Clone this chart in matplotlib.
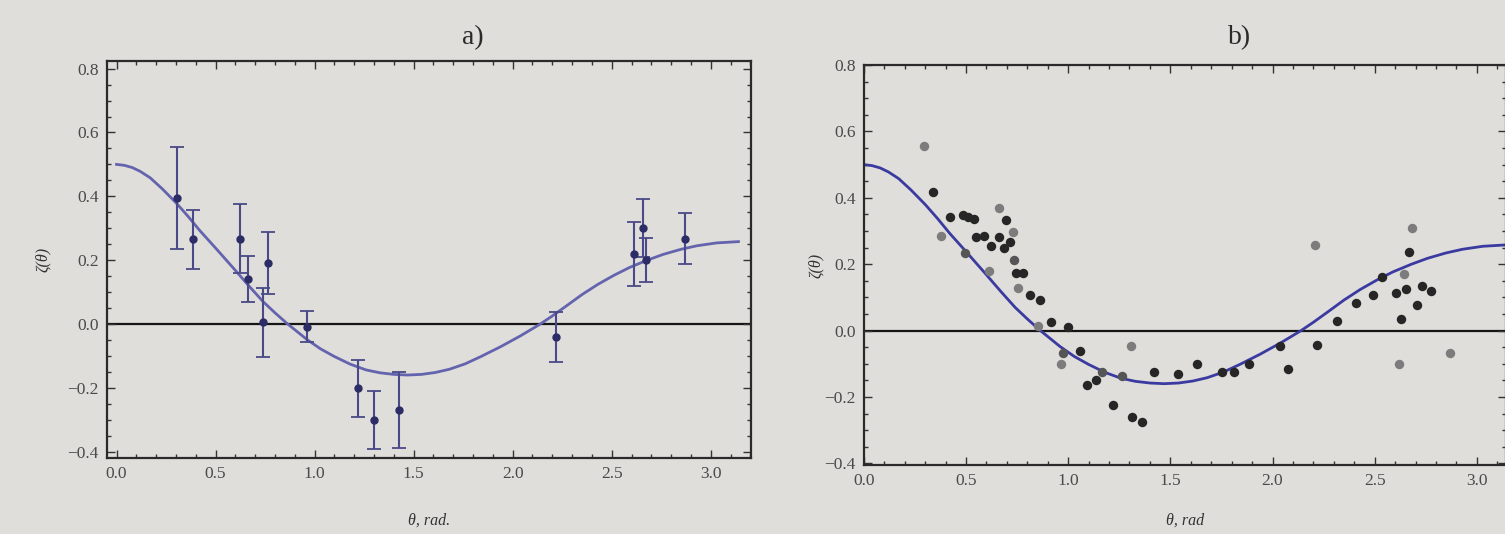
import matplotlib
matplotlib.use("Agg")
from matplotlib import pyplot as plt
from matplotlib.ticker import MultipleLocator

# ---------------------------------------------------------------------------
# data
# ---------------------------------------------------------------------------
# fitted curve zeta(theta), same in both panels
fit_theta = [0.00, 0.04, 0.08, 0.12, 0.17, 0.23, 0.30, 0.36, 0.42, 0.50, 0.59, 0.67, 0.74, 0.80,
             0.86, 0.96, 1.03, 1.10, 1.18, 1.26, 1.33, 1.40, 1.47, 1.54, 1.61, 1.68, 1.76, 1.84,
             1.94, 2.04, 2.14, 2.20, 2.27, 2.35, 2.43, 2.51, 2.59, 2.68, 2.76, 2.85, 2.93, 3.03,
             3.14]
fit_zeta = [0.500, 0.497, 0.490, 0.478, 0.458, 0.424, 0.380, 0.338, 0.293, 0.238, 0.175, 0.118,
            0.070, 0.035, 0.002, -0.048, -0.078, -0.102, -0.126, -0.144, -0.153, -0.158, -0.160,
            -0.158, -0.152, -0.142, -0.125, -0.102, -0.071, -0.037, 0.000, 0.025, 0.056, 0.092,
            0.124, 0.152, 0.177, 0.200, 0.218, 0.234, 0.245, 0.254, 0.258]

# panel a: measurements with error bars
a_theta = [0.304, 0.388, 0.624, 0.662, 0.767, 0.742, 0.964, 1.218, 1.302, 1.427,
           2.218, 2.615, 2.656, 2.673, 2.871]
a_zeta = [0.396, 0.265, 0.267, 0.141, 0.190, 0.005, -0.008, -0.202, -0.301, -0.270,
          -0.040, 0.219, 0.300, 0.200, 0.267]
a_err = [0.160, 0.093, 0.108, 0.072, 0.097, 0.108, 0.050, 0.090, 0.092, 0.118,
         0.078, 0.100, 0.090, 0.070, 0.080]

# panel b: individual points, three shades
b_dark_theta = [0.338, 0.422, 0.484, 0.509, 0.541, 0.549, 0.590, 0.622, 0.663, 0.696, 0.684,
                0.716, 0.745, 0.778, 0.813, 0.864, 0.915, 0.997, 1.057, 1.135, 1.094, 1.420,
                1.536, 1.631, 1.221, 1.310, 1.362, 1.752, 1.812, 1.887, 2.038, 2.078, 2.219,
                2.314, 2.411, 2.492, 2.538, 2.606, 2.651, 2.668, 2.631, 2.707, 2.733, 2.777]
b_dark_zeta = [0.419, 0.341, 0.349, 0.341, 0.336, 0.281, 0.284, 0.254, 0.282, 0.333, 0.248,
               0.266, 0.173, 0.173, 0.108, 0.093, 0.025, 0.012, -0.062, -0.150, -0.165, -0.125,
               -0.130, -0.100, -0.223, -0.259, -0.276, -0.125, -0.125, -0.100, -0.045, -0.115,
               -0.043, 0.028, 0.082, 0.108, 0.160, 0.112, 0.125, 0.238, 0.035, 0.078, 0.135,
               0.118]
b_mid_theta = [0.497, 0.737, 0.975, 1.167, 1.264]
b_mid_zeta = [0.234, 0.213, -0.067, -0.125, -0.138]
b_light_theta = [0.294, 0.376, 0.663, 0.729, 0.753, 0.614, 0.854, 0.964, 1.306,
                 2.208, 2.646, 2.684, 2.618, 2.870]
b_light_zeta = [0.556, 0.286, 0.369, 0.298, 0.127, 0.180, 0.015, -0.102, -0.047,
                0.258, 0.170, 0.308, -0.100, -0.068]

BG = '#dfdeda'
SERIF = ['Liberation Serif', 'DejaVu Serif']


def style_axes(ax, ylim, xlim):
    ax.set_facecolor(BG)
    ax.set_xlim(*xlim)
    ax.set_ylim(*ylim)
    ax.xaxis.set_major_locator(MultipleLocator(0.5))
    ax.xaxis.set_minor_locator(MultipleLocator(0.1))
    ax.yaxis.set_major_locator(MultipleLocator(0.2))
    ax.yaxis.set_minor_locator(MultipleLocator(0.05))
    ax.tick_params(which='both', direction='in', top=True, right=True, colors='#333333',
                   labelcolor='#4a4a4a', labelsize=12.5, width=1.0)
    ax.tick_params(which='major', length=6, pad=6)
    ax.tick_params(which='minor', length=3)
    for lab in ax.get_xticklabels() + ax.get_yticklabels():
        lab.set_family(SERIF)
    for sp in ax.spines.values():
        sp.set_color('#2a2a2a')
        sp.set_linewidth(1.6)
    ax.axhline(0.0, color='#151515', lw=1.6, zorder=1)   # zero line


def main():
    fig = plt.figure(figsize=(15.05, 5.34), dpi=100)
    fig.patch.set_facecolor(BG)

    # -------------------------- panel a --------------------------
    ax1 = fig.add_axes([0.0711, 0.1423, 0.428, 0.7435])
    style_axes(ax1, (-0.42, 0.824), (-0.048, 3.204))
    ax1.plot(fit_theta, fit_zeta, color='#6464ae', lw=2.0, zorder=2)
    ax1.errorbar(a_theta, a_zeta, yerr=a_err, fmt='o', color='#2c2c66', ms=5,
                 ecolor='#4a4a88', elinewidth=1.5, capsize=5, capthick=1.3, zorder=3)
    ax1.set_xlabel('θ, rad.', family=SERIF, style='italic', fontsize=11.5, color='#333333',
                   labelpad=22)
    ax1.set_ylabel('ζ(θ)', family=SERIF, style='italic', fontsize=11.5, color='#333333',
                   labelpad=12)

    # -------------------------- panel b --------------------------
    # right edge of this frame is cut off by the picture, as in the original
    ax2 = fig.add_axes([0.574, 0.1292, 0.4265, 0.749])
    style_axes(ax2, (-0.405, 0.8), (0.0, 3.1416))
    ax2.plot(fit_theta, fit_zeta, color='#3a3aa0', lw=2.0, zorder=2)
    ax2.plot(b_light_theta, b_light_zeta, 'o', color='#7c7c7c', ms=6.8, mec='none', zorder=3)
    ax2.plot(b_mid_theta, b_mid_zeta, 'o', color='#555555', ms=6.8, mec='none', zorder=3)
    ax2.plot(b_dark_theta, b_dark_zeta, 'o', color='#262626', ms=6.8, mec='none', zorder=4)
    ax2.set_xlabel('θ, rad', family=SERIF, style='italic', fontsize=11.5, color='#333333',
                   labelpad=17)
    ax2.set_ylabel('ζ(θ)', family=SERIF, style='italic', fontsize=11.5, color='#333333',
                   labelpad=0)

    # panel titles
    fig.text(473 / 1505, 1 - 38 / 534, 'a)', family=SERIF, fontsize=20, color='#2a2a2a',
             ha='center', va='center')
    fig.text(1240 / 1505, 1 - 38 / 534, 'b)', family=SERIF, fontsize=20, color='#2a2a2a',
             ha='center', va='center')

    fig.savefig('out.png', dpi=100, facecolor=BG)


if __name__ == '__main__':
    main()
